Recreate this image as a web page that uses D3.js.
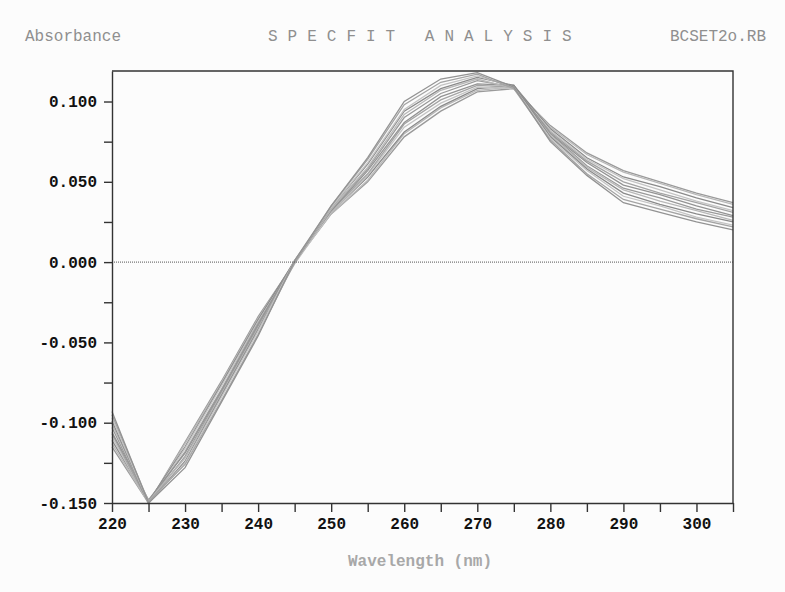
<!DOCTYPE html>
<html>
<head>
<meta charset="utf-8">
<script src="https://cdn.jsdelivr.net/npm/d3@7"></script>
<style>
  body { margin: 0; background: #fcfcfc; }
  svg { display: block; }
  text { font-family: "Liberation Mono", "DejaVu Sans Mono", monospace; }
</style>
</head>
<body>
<svg id="chart"></svg>
<script>
// wavelengths (nm) sampled every 5 nm
var wavelengths = [220, 225, 230, 235, 240, 245, 250, 255, 260, 265, 270, 275, 280, 285, 290, 295, 300, 305];

// absorbance spectra (one array per curve)
var spec01 = [-0.115, -0.150, -0.112, -0.074, -0.034, 0.000, 0.030, 0.050, 0.078, 0.094, 0.106, 0.108, 0.085, 0.068, 0.057, 0.050, 0.043, 0.037];
var spec02 = [-0.113, -0.150, -0.113, -0.075, -0.035, 0.000, 0.030, 0.051, 0.080, 0.096, 0.107, 0.109, 0.084, 0.067, 0.056, 0.049, 0.042, 0.036];
var spec03 = [-0.111, -0.149, -0.115, -0.076, -0.036, 0.001, 0.031, 0.053, 0.081, 0.097, 0.108, 0.110, 0.083, 0.065, 0.053, 0.047, 0.040, 0.034];
var spec04 = [-0.109, -0.150, -0.116, -0.077, -0.037, -0.001, 0.031, 0.054, 0.084, 0.099, 0.109, 0.108, 0.082, 0.064, 0.052, 0.045, 0.038, 0.032];
var spec05 = [-0.107, -0.150, -0.118, -0.079, -0.038, 0.000, 0.032, 0.055, 0.086, 0.101, 0.110, 0.109, 0.081, 0.063, 0.050, 0.043, 0.037, 0.031];
var spec06 = [-0.106, -0.148, -0.119, -0.080, -0.039, 0.001, 0.032, 0.057, 0.087, 0.103, 0.111, 0.110, 0.080, 0.062, 0.048, 0.042, 0.035, 0.029];
var spec07 = [-0.103, -0.150, -0.121, -0.081, -0.040, 0.000, 0.033, 0.058, 0.090, 0.105, 0.113, 0.109, 0.080, 0.060, 0.046, 0.040, 0.033, 0.028];
var spec08 = [-0.101, -0.149, -0.122, -0.082, -0.041, -0.001, 0.033, 0.059, 0.092, 0.107, 0.114, 0.108, 0.079, 0.059, 0.045, 0.038, 0.032, 0.026];
var spec09 = [-0.099, -0.150, -0.124, -0.083, -0.042, 0.000, 0.034, 0.061, 0.094, 0.108, 0.115, 0.110, 0.078, 0.058, 0.043, 0.036, 0.030, 0.025];
var spec10 = [-0.097, -0.150, -0.125, -0.084, -0.043, 0.001, 0.034, 0.062, 0.095, 0.110, 0.116, 0.109, 0.077, 0.057, 0.041, 0.035, 0.028, 0.023];
var spec11 = [-0.095, -0.149, -0.126, -0.086, -0.045, 0.000, 0.035, 0.064, 0.098, 0.112, 0.117, 0.108, 0.076, 0.055, 0.039, 0.033, 0.027, 0.022];
var spec12 = [-0.093, -0.150, -0.128, -0.087, -0.046, 0.001, 0.035, 0.065, 0.100, 0.114, 0.118, 0.109, 0.075, 0.054, 0.037, 0.031, 0.025, 0.020];

var spectra = [spec01, spec02, spec03, spec04, spec05, spec06, spec07, spec08, spec09, spec10, spec11, spec12];

var xTicks = d3.range(220, 306, 5);
var xLabels = [220, 230, 240, 250, 260, 270, 280, 290, 300];
var yTicks = [-0.150, -0.125, -0.100, -0.075, -0.050, -0.025, 0.000, 0.025, 0.050, 0.075, 0.100];
var yLabels = [-0.150, -0.100, -0.050, 0.000, 0.050, 0.100];

var width = 785, height = 592;
var margin = { top: 71, left: 112, bottom: 89, right: 52 };

var svg = d3.select("#chart")
            .attr("width", width)
            .attr("height", height);

svg.append("rect")
   .attr("width", width)
   .attr("height", height)
   .attr("fill", "#fcfcfc");

var x = d3.scaleLinear()
          .domain([220, 305])
          .range([margin.left, width - margin.right]);
var y = d3.scaleLinear()
          .domain([-0.150, 0.119])
          .range([height - margin.bottom, margin.top]);

// curves
var line = d3.line()
             .x(function (d, i) { return x(wavelengths[i]); })
             .y(function (d) { return y(d); });

var shades = ["#9a9a9a", "#b8b8b8", "#8a8a8a", "#c4c4c4", "#a4a4a4", "#939393"];
svg.append("g")
   .selectAll("path")
   .data(spectra)
   .enter()
   .append("path")
   .attr("d", line)
   .attr("fill", "none")
   .attr("stroke", function (d, i) { return shades[i % shades.length]; })
   .attr("stroke-width", 1.3);

// zero line
svg.append("line")
   .attr("x1", x(220)).attr("x2", x(305))
   .attr("y1", y(0)).attr("y2", y(0))
   .attr("stroke", "#555")
   .attr("stroke-width", 1)
   .attr("stroke-dasharray", "1,1");

// frame (top / right)
svg.append("path")
   .attr("d", "M" + x(220) + "," + y.range()[1] + "H" + x(305) + "V" + y.range()[0])
   .attr("fill", "none")
   .attr("stroke", "#333")
   .attr("stroke-width", 1.4);

// axes
var xAxis = d3.axisBottom(x)
              .tickValues(xTicks)
              .tickSize(9)
              .tickSizeOuter(0)
              .tickFormat(function (d) { return xLabels.indexOf(d) >= 0 ? d : ""; });
var gx = svg.append("g")
            .attr("transform", "translate(0," + y(-0.150) + ")")
            .call(xAxis);

var yAxis = d3.axisLeft(y)
              .tickValues(yTicks)
              .tickSize(8)
              .tickSizeOuter(0)
              .tickFormat(function (d) {
                  var hit = yLabels.some(function (v) { return Math.abs(v - d) < 1e-9; });
                  return hit ? d3.format(".3f")(d).replace("−", "-") : "";
              });
var gy = svg.append("g")
            .attr("transform", "translate(" + x(220) + ",0)")
            .call(yAxis);

[gx, gy].forEach(function (g) {
    g.select(".domain").attr("stroke", "#333").attr("stroke-width", 1.4);
    g.selectAll(".tick line").attr("stroke", "#333").attr("stroke-width", 1.4);
    g.selectAll(".tick text")
     .attr("fill", "#111")
     .style("font-size", "16px")
     .style("font-weight", "bold")
     .style("font-family", "'Liberation Mono', monospace");
});
gx.selectAll(".tick text").attr("dy", "0.9em");
gy.selectAll(".tick text").attr("x", -15);

// titles
svg.append("text")
   .attr("x", 25)
   .attr("y", 41)
   .attr("fill", "#8f8f8f")
   .style("font-size", "16px")
   .text("Absorbance");

svg.append("text")
   .attr("x", 268)
   .attr("y", 41)
   .attr("fill", "#8f8f8f")
   .style("font-size", "16px")
   .style("letter-spacing", "10px")
   .text("SPECFIT ANALYSIS");

svg.append("text")
   .attr("x", 766)
   .attr("y", 41)
   .attr("text-anchor", "end")
   .attr("fill", "#8f8f8f")
   .style("font-size", "16px")
   .text("BCSET2o.RB");

svg.append("text")
   .attr("x", 420)
   .attr("y", 566)
   .attr("text-anchor", "middle")
   .attr("fill", "#a8a8a8")
   .style("font-size", "16px")
   .style("font-weight", "bold")
   .text("Wavelength (nm)");
</script>
</body>
</html>
